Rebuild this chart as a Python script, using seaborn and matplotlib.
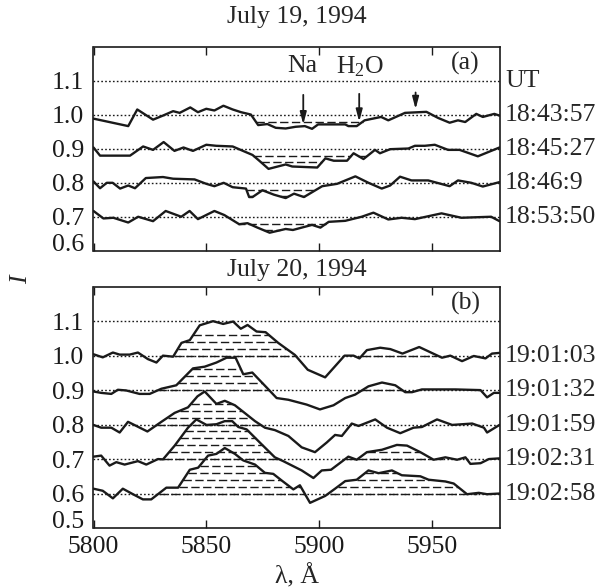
import numpy as np
import matplotlib
matplotlib.use("Agg")
import matplotlib.pyplot as plt
import seaborn as sns

# ---------------- data ----------------
# (a) July 19, 1994
lam_a1 = [5800, 5815.4, 5819.4, 5826.4, 5830.8, 5835.3, 5838.2, 5842.9, 5846.3, 5850, 5853.6, 5857.6,
          5861.7, 5865.4, 5869.8, 5873, 5877.1, 5880.8, 5885.2, 5889.6, 5893.7, 5896.9, 5899.6, 5911.6,
          5913, 5916.7, 5920.2, 5927.5, 5930.7, 5938.1, 5947.6, 5952.8, 5957.9, 5961.6, 5964.8, 5969.7,
          5972.6, 5977.7, 5980]
int_a1 = [0.989, 0.967, 1.016, 0.986, 0.998, 1.011, 1.006, 1.022, 1.008, 1.018, 1.013, 1.027,
          1.016, 1.008, 1.001, 0.970, 0.973, 0.962, 0.960, 0.965, 0.967, 0.959, 0.972, 0.972,
          0.967, 0.967, 0.984, 0.994, 0.984, 1.006, 1.009, 0.991, 0.977, 0.984, 0.979, 1.003,
          0.994, 1.003, 0.998]

lam_a2 = [5800, 5802.9, 5816.2, 5822, 5826.4, 5831.1, 5835.9, 5839.9, 5844.1, 5850, 5854.4, 5861.7,
          5870.5, 5873.5, 5877.6, 5885.2, 5888.1, 5899.2, 5902.8, 5906.5, 5912.4, 5915.3, 5919.7,
          5924.8, 5927, 5931.5, 5939.6, 5942.5, 5946.9, 5951.3, 5957.2, 5962.3, 5970.4, 5980]
int_a2 = [0.904, 0.880, 0.880, 0.907, 0.897, 0.920, 0.894, 0.904, 0.894, 0.912, 0.909, 0.907,
          0.882, 0.865, 0.841, 0.854, 0.848, 0.845, 0.872, 0.865, 0.865, 0.887, 0.870,
          0.897, 0.887, 0.899, 0.901, 0.909, 0.909, 0.912, 0.897, 0.897, 0.878, 0.904]

lam_a3 = [5800, 5802.9, 5805.9, 5808.5, 5811.8, 5815.4, 5818.4, 5823.2, 5830.8, 5835.3, 5844.8, 5850,
          5853.6, 5857.7, 5861.7, 5867.6, 5869, 5870.5, 5874.9, 5880, 5885.2, 5888.9, 5893.3, 5901.4,
          5908, 5916.1, 5921.9, 5927.8, 5931.5, 5935.9, 5941, 5948.4, 5957.9, 5961.6, 5967.5, 5972.6,
          5980]
int_a3 = [0.804, 0.784, 0.800, 0.800, 0.783, 0.792, 0.784, 0.814, 0.817, 0.812, 0.810, 0.797,
          0.790, 0.800, 0.787, 0.783, 0.758, 0.758, 0.778, 0.765, 0.755, 0.768, 0.758, 0.790,
          0.797, 0.819, 0.800, 0.783, 0.792, 0.818, 0.807, 0.807, 0.790, 0.807, 0.800, 0.789,
          0.802]

lam_a4 = [5800, 5804.4, 5808.8, 5815.4, 5819.8, 5826.4, 5832, 5838.9, 5842.6, 5846.3, 5853.6, 5858,
          5864.6, 5868.3, 5872.7, 5878.1, 5885.2, 5888.4, 5894, 5896.9, 5900.6, 5904.3, 5911.6,
          5918.9, 5924.1, 5930.7, 5936.6, 5942.5, 5954.3, 5963.1, 5976.3, 5980]
int_a4 = [0.717, 0.695, 0.697, 0.683, 0.700, 0.687, 0.717, 0.700, 0.717, 0.693, 0.717, 0.705,
          0.678, 0.681, 0.668, 0.653, 0.664, 0.661, 0.671, 0.676, 0.668, 0.685, 0.688,
          0.700, 0.712, 0.692, 0.697, 0.693, 0.710, 0.697, 0.700, 0.687]

# (b) July 20, 1994
lam_b1 = [5800, 5804.1, 5808.6, 5811.6, 5816, 5819.7, 5824.1, 5827.9, 5830.8, 5835.3, 5839, 5842.7,
          5847.1, 5853, 5857.5, 5861.9, 5865.3, 5868.3, 5872.3, 5876.3, 5881.9, 5889.3, 5895, 5902.7,
          5911.3, 5915.3, 5917.9, 5921.2, 5927.1, 5931.6, 5937, 5944.4, 5954.5, 5958.2, 5963.4,
          5968.6, 5973.8, 5976.7, 5980]
int_b1 = [1.004, 0.995, 1.009, 1.003, 1.003, 1.009, 0.990, 0.980, 1.000, 0.997, 1.037, 1.045,
          1.088, 1.100, 1.092, 1.099, 1.078, 1.089, 1.070, 1.068, 1.037, 1.002, 0.959, 0.937,
          1.000, 1.000, 0.992, 1.016, 1.023, 1.019, 1.006, 1.025, 0.994, 1.000, 0.984,
          0.999, 0.992, 1.006, 1.008]

lam_b2 = [5800, 5803.4, 5807.9, 5810.8, 5814.5, 5820.4, 5824.9, 5830.1, 5836.7, 5844.1, 5849.3,
          5854.5, 5859, 5863, 5866.4, 5870.4, 5876.7, 5881.2, 5886.4, 5894.5, 5900.4, 5906.4,
          5911.6, 5916, 5921.9, 5927.9, 5933.8, 5938.2, 5941.2, 5945.6, 5960.4, 5971.6, 5974.5,
          5977.5, 5980]
int_b2 = [0.896, 0.892, 0.889, 0.901, 0.899, 0.889, 0.889, 0.904, 0.914, 0.963, 0.968,
          0.980, 0.994, 0.994, 0.946, 0.951, 0.908, 0.877, 0.872, 0.858, 0.844, 0.856,
          0.877, 0.887, 0.911, 0.922, 0.914, 0.894, 0.894, 0.902, 0.902, 0.900, 0.879,
          0.892, 0.892]

lam_b3 = [5800, 5803.4, 5807.9, 5811.6, 5815.3, 5819, 5823.9, 5830.1, 5836, 5841.9, 5846.1, 5849.3,
          5854.5, 5858.2, 5862.7, 5866.4, 5871.6, 5876, 5880.4, 5886.4, 5892.3, 5898.2, 5903.4,
          5907.1, 5910.1, 5914.5, 5917.5, 5924.9, 5930.1, 5936, 5941.9, 5945.6, 5952.3, 5959,
          5967.9, 5973.1, 5974.5, 5980]
int_b3 = [0.799, 0.791, 0.791, 0.777, 0.808, 0.796, 0.780, 0.808, 0.834, 0.850, 0.882, 0.896,
          0.860, 0.869, 0.856, 0.837, 0.810, 0.791, 0.784, 0.767, 0.734, 0.720, 0.748,
          0.770, 0.767, 0.803, 0.796, 0.815, 0.791, 0.775, 0.791, 0.793, 0.815, 0.799,
          0.803, 0.791, 0.777, 0.799]

lam_b4 = [5800, 5803.4, 5807.1, 5810.1, 5813.8, 5819.7, 5823.4, 5828.6, 5830.8, 5836, 5841.9, 5845.6,
          5850.1, 5854.5, 5858.2, 5861.5, 5864.2, 5867.9, 5874.5, 5880.4, 5884.1, 5892.3, 5897.5,
          5901.2, 5905.3, 5913, 5916.7, 5921.2, 5927.9, 5934.5, 5939, 5944.9, 5950.8, 5956,
          5961.2, 5964.9, 5967.1, 5971.6, 5975.3, 5980]
int_b4 = [0.707, 0.710, 0.681, 0.691, 0.684, 0.694, 0.684, 0.700, 0.699, 0.739, 0.791, 0.815,
          0.799, 0.801, 0.810, 0.810, 0.793, 0.786, 0.743, 0.705, 0.694, 0.667, 0.645,
          0.667, 0.669, 0.707, 0.698, 0.720, 0.727, 0.741, 0.739, 0.720, 0.698, 0.705,
          0.698, 0.705, 0.686, 0.688, 0.700, 0.702]

lam_b5 = [5800, 5804.1, 5808.6, 5813, 5817.5, 5821.9, 5825.6, 5832.3, 5837.5, 5842.7, 5846.4, 5850.8,
          5854.5, 5858.2, 5862.7, 5866.4, 5871.6, 5876, 5879.7, 5883.4, 5888.6, 5891.5, 5896,
          5902.7, 5907.1, 5911.6, 5916.7, 5921.9, 5926.4, 5932.3, 5936.7, 5944.9, 5948.6, 5956,
          5959.7, 5965.6, 5970.8, 5974.5, 5980]
int_b5 = [0.614, 0.608, 0.586, 0.614, 0.598, 0.583, 0.583, 0.617, 0.617, 0.669, 0.675, 0.710,
          0.715, 0.732, 0.715, 0.696, 0.684, 0.660, 0.657, 0.638, 0.612, 0.624, 0.573,
          0.593, 0.614, 0.636, 0.640, 0.667, 0.659, 0.667, 0.653, 0.650, 0.640, 0.635,
          0.629, 0.598, 0.602, 0.598, 0.600]

baselines_a = [1.0, 0.9, 0.8, 0.7]
times_a = ["18:43:57", "18:45:27", "18:46:9", "18:53:50"]
baselines_b = [1.0, 0.9, 0.8, 0.7, 0.6]
times_b = ["19:01:03", "19:01:32", "19:01:59", "19:02:31", "19:02:58"]

# hatched depressions / excesses: (from, to, number of hatch levels)
hatch_a = [[(5866, 5925, 1)], [(5866, 5925, 2)], [(5860, 5925, 2)], [(5860, 5925, 2)]]
hatch_b = [[(5828, 5895, 3), (5912, 5952, 0)],
           [(5828, 5895, 3), (5915, 5940, 0)],
           [(5825, 5895, 3)],
           [(5825, 5895, 4), (5912, 5955, 1)],
           [(5828, 5895, 4), (5905, 5970, 3)]]

lines_a = [(lam_a1, int_a1), (lam_a2, int_a2), (lam_a3, int_a3), (lam_a4, int_a4)]
lines_b = [(lam_b1, int_b1), (lam_b2, int_b2), (lam_b3, int_b3), (lam_b4, int_b4), (lam_b5, int_b5)]

# spectral features marked in (a)
arrow_lam = [5893, 5917.8, 5942.8]
arrow_top = [1.059, 1.062, 1.066]
arrow_tip = [0.972, 0.980, 1.017]

# ---------------- style ----------------
sns.set_theme(style="white")
plt.rcParams["font.family"] = ["Liberation Serif", "DejaVu Serif"]
plt.rcParams["mathtext.fontset"] = "custom"
plt.rcParams["mathtext.rm"] = "Liberation Serif"
plt.rcParams["mathtext.it"] = "Liberation Serif:italic"
FS = 18.5

fig = plt.figure(figsize=(6.03, 5.88), dpi=100)
W, H = 603.0, 588.0
left, right = 93.5, 499.5
ax_a = fig.add_axes([left / W, 1 - 250.7 / H, (right - left) / W, (250.7 - 47) / H])
ax_b = fig.add_axes([left / W, 1 - 528 / H, (right - left) / W, (528 - 286.7) / H])

DOT = (0, (1.2, 1.6))
DASH = (0, (6.0, 2.5))


def segments(x, y, level, lo, hi, above):
    xs = np.linspace(lo, hi, 3000)
    ys = np.interp(xs, x, y)
    mask = ys > level if above else ys < level
    segs = []
    start = None
    for i, m in enumerate(mask):
        if m and start is None:
            start = i
        elif not m and start is not None:
            segs.append((xs[start], xs[i - 1]))
            start = None
    if start is not None:
        segs.append((xs[start], xs[-1]))
    return segs


def draw_panel(ax, lines, bases, hatches, above, with_base_hatch):
    ax.axhline(1.1, color="k", lw=1.0, ls=DOT, zorder=1)
    for (x, y), base, hl in zip(lines, bases, hatches):
        ax.axhline(base, color="k", lw=1.0, ls=DOT, zorder=1)
        sign = 1 if above else -1
        for lo, hi, n in hl:
            k0 = 0 if with_base_hatch else 1
            for k in range(k0, n + 1):
                lev = base + sign * 0.02 * k
                for s0, s1 in segments(x, y, lev, lo, hi, above):
                    if s1 - s0 > 0.8:
                        ax.hlines(lev, s0, s1, colors="k", lw=1.0, linestyles=DASH, zorder=2)
        sns.lineplot(x=x, y=y, ax=ax, color="k", lw=1.7, sort=False, estimator=None, zorder=3)


draw_panel(ax_a, lines_a, baselines_a, hatch_a, above=False, with_base_hatch=False)
draw_panel(ax_b, lines_b, baselines_b, hatch_b, above=True, with_base_hatch=True)

for ax, ylo, yticks in [(ax_a, 0.6, [0.6, 0.7, 0.8, 0.9, 1.0, 1.1]),
                        (ax_b, 0.5, [0.5, 0.6, 0.7, 0.8, 0.9, 1.0, 1.1])]:
    ax.set_xlim(5800, 5980)
    ax.set_ylim(ylo, 1.2)
    ax.set_xticks([5800, 5850, 5900, 5950])
    ax.set_yticks(yticks)
    ax.set_yticklabels([f"{v:.1f}" for v in yticks], fontsize=FS)
    ax.tick_params(axis="x", direction="in", top=True, bottom=True, length=6, width=1.0,
                   labelsize=FS, pad=6, colors="k")
    ax.tick_params(axis="y", length=0, pad=7, colors="k")
    ax.set_xlabel("")
    ax.set_ylabel("")
    for sp in ax.spines.values():
        sp.set_color("k")
        sp.set_linewidth(1.2)
        sp.set_visible(True)
    # the lowest value label sits on the bottom frame line
    ax.get_yticklabels()[0].set_verticalalignment("baseline")

ax_a.tick_params(axis="x", labelbottom=False)

# right-hand labels
ax_a.text(5982.5, 1.1, "UT", fontsize=FS, ha="left", va="center", clip_on=False)
for base, t in zip(baselines_a, times_a):
    ax_a.text(5982.5, base, t, fontsize=FS, ha="left", va="center", clip_on=False)
for base, t in zip(baselines_b, times_b):
    ax_b.text(5982.5, base, t, fontsize=FS, ha="left", va="center", clip_on=False)

# feature markers
for lx, y0, y1 in zip(arrow_lam, arrow_top, arrow_tip):
    ax_a.annotate("", xy=(lx, y1), xytext=(lx, y0),
                  arrowprops=dict(arrowstyle="-|>,head_width=0.16,head_length=0.6",
                                  mutation_scale=12, color="k", lw=1.3, shrinkA=0, shrinkB=0))
ax_a.text(5892.5, 1.143, "Na", fontsize=FS, ha="center", va="center")
ax_a.text(5918, 1.143, r"H$_\mathrm{2}$O", fontsize=FS, ha="center", va="center")
ax_a.text(5965, 1.152, "(a)", fontsize=FS, ha="center", va="center")
ax_b.text(5965, 1.152, "(b)", fontsize=FS, ha="center", va="center")

fig.text(297 / W, 1 - 17 / H, "July 19, 1994", fontsize=FS, ha="center", va="center")
fig.text(297 / W, 1 - 270 / H, "July 20, 1994", fontsize=FS, ha="center", va="center")
fig.text(21 / W, 1 - 280 / H, "I", fontsize=FS, style="italic", rotation=90, ha="center", va="center")
fig.text(297 / W, 1 - 576 / H, "λ, Å", fontsize=FS, ha="center", va="center")

fig.savefig("out.png", dpi=100)
